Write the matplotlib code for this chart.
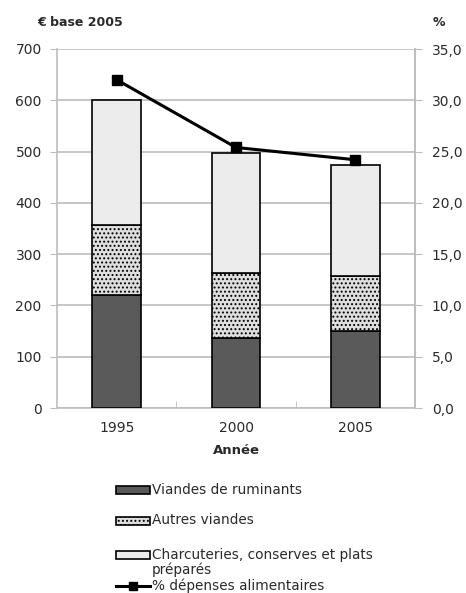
import matplotlib
matplotlib.use("Agg")
import matplotlib.pyplot as plt
from matplotlib.patches import Rectangle
from matplotlib.lines import Line2D
from matplotlib.ticker import FuncFormatter

# data
years = ["1995", "2000", "2005"]
ruminants = [221, 137, 150]
autres = [136, 127, 108]
charcuteries = [244, 234, 215]
pct_depenses = [32.0, 25.4, 24.2]

labels = ["Viandes de ruminants", "Autres viandes",
          "Charcuteries, conserves et plats\npréparés", "% dépenses alimentaires"]

GRID = "#bdbdbd"
C_RUM = "#5a5a5a"
C_AUT = "#dedede"
C_CHA = "#ececec"
TXT = "#2a2a2a"

plt.rcParams["font.family"] = ["DejaVu Sans"]
plt.rcParams["hatch.color"] = "#b4b4b4"
plt.rcParams["hatch.linewidth"] = 0.9

fig = plt.figure(figsize=(4.66, 5.93), dpi=100)
ax = fig.add_axes([57 / 466, 1 - 408 / 593, (415 - 57) / 466, (408 - 49) / 593])

x = list(range(len(years)))
w = 0.41
bot2 = ruminants
bot3 = [a + b for a, b in zip(ruminants, autres)]
ax.bar(x, ruminants, w, color=C_RUM, edgecolor="black", lw=1.2, zorder=3)
ax.bar(x, autres, w, bottom=bot2, color=C_AUT, edgecolor="black", lw=1.2,
       hatch="....", zorder=3)
ax.bar(x, charcuteries, w, bottom=bot3, color=C_CHA, edgecolor="black", lw=1.2,
       zorder=3)

ax.set_xlim(-0.5, 2.5)
ax.set_ylim(0, 700)
ax.set_yticks(range(0, 701, 100))
ax.set_xticks(x)
ax.set_xticklabels(years)
ax.set_xticks([0.5, 1.5], minor=True)
ax.tick_params(axis="x", which="major", length=0, pad=9, labelsize=10, colors=TXT)
ax.tick_params(axis="x", which="minor", length=5, color=GRID, direction="in")
ax.tick_params(axis="y", length=5, color=GRID, labelsize=10, labelcolor=TXT, pad=6)
ax.yaxis.grid(True, color=GRID, lw=1.2, zorder=0)
ax.set_axisbelow(True)
ax.spines["top"].set_visible(False)
for s in ["left", "bottom", "right"]:
    ax.spines[s].set_color(GRID)
    ax.spines[s].set_linewidth(1.2)
ax.set_xlabel("Année", fontsize=9.5, fontweight="bold", labelpad=7, color=TXT)

ax2 = ax.twinx()
ax2.set_ylim(0, 35)
ax2.set_yticks(range(0, 36, 5))
ax2.yaxis.set_major_formatter(FuncFormatter(lambda v, p: f"{v:.1f}".replace(".", ",")))
ax2.tick_params(axis="y", length=5, color=GRID, labelsize=10, labelcolor=TXT, pad=7)
for s in ["top", "left", "bottom"]:
    ax2.spines[s].set_visible(False)
ax2.spines["right"].set_color(GRID)
ax2.spines["right"].set_linewidth(1.2)
ax2.plot(x, pct_depenses, color="black", lw=2.2, marker="s", ms=7, zorder=5)

fig.text(37 / 466, 1 - 22 / 593, "€ base 2005", fontsize=9, fontweight="bold",
         va="center", color=TXT)
fig.text(433 / 466, 1 - 22 / 593, "%", fontsize=9, fontweight="bold",
         va="center", color=TXT)

# legend, drawn by hand
W, H = 466, 593
rows = [490, 521, 555, 586]
styles = [dict(fc=C_RUM, hatch=None), dict(fc=C_AUT, hatch="...."),
          dict(fc=C_CHA, hatch=None)]
for i, st in enumerate(styles):
    y = rows[i]
    fig.add_artist(Rectangle((116 / W, 1 - (y + 4) / H), 34 / W, 8 / H,
                             transform=fig.transFigure, fc=st["fc"], ec="black",
                             lw=1.2, hatch=st["hatch"]))
fig.add_artist(Line2D([116 / W, 150 / W], [1 - rows[3] / H] * 2, color="black", lw=2.2,
                      transform=fig.transFigure))
fig.add_artist(Line2D([133 / W], [1 - rows[3] / H], color="black", marker="s", ms=6,
                      transform=fig.transFigure))
for i, lab in enumerate(labels):
    fig.text(152 / W, 1 - (rows[i] - 7.5) / H, lab, fontsize=9.8, va="top",
             color=TXT, linespacing=1.05)

fig.savefig("out.png", dpi=100)
